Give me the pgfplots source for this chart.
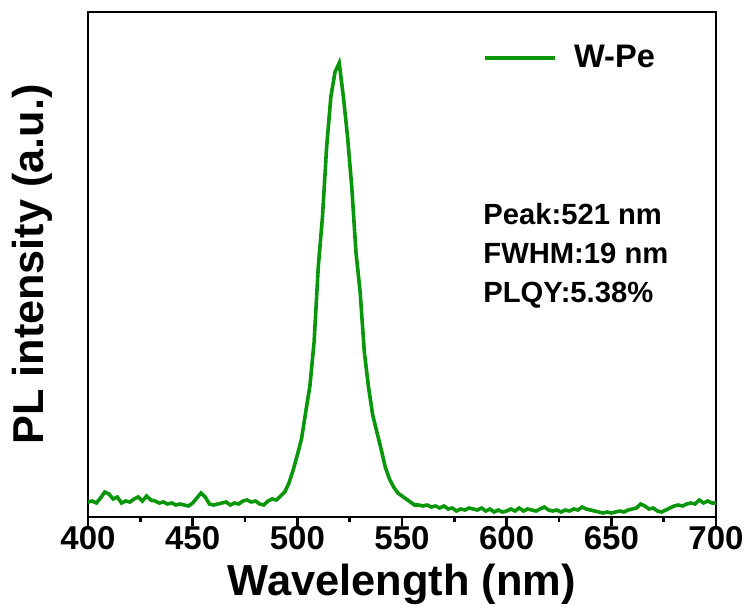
\documentclass[border=0pt]{standalone}
\usepackage{fontspec}
\setmainfont{Liberation Sans}
\usepackage{pgfplots}
\pgfplotsset{compat=1.18}
\definecolor{pegreen}{RGB}{10,150,10}
\begin{document}
\begin{tikzpicture}
\begin{axis}[
  scale only axis,
  width=314pt, height=252.5pt,
  xmin=400, xmax=700, ymin=0, ymax=505,
  xtick={400,450,...,700},
  minor x tick num=1,
  ytick=\empty,
  xtick pos=bottom,
  tick align=outside,
  major tick length=4.5pt,
  minor tick length=2.6pt,
  axis line style={line width=1.4pt},
  every tick/.style={line width=1.4pt, black},
  every minor tick/.style={line width=1.4pt, black},
  /pgf/number format/assume math mode=true,
  /pgf/number format/1000 sep={},
  xticklabel style={font=\fontsize{16.5}{18}\selectfont\bfseries, yshift=1pt, inner ysep=1pt},
  xlabel={Wavelength (nm)},
  ylabel={PL intensity (a.u.)},
  xlabel style={font=\fontsize{21.7}{24}\selectfont\bfseries, at={(axis description cs:0.5,-0.134)}, anchor=center, inner ysep=0pt},
  ylabel style={font=\fontsize{21.6}{24}\selectfont\bfseries, at={(axis description cs:-0.0892,0.5)}, anchor=center, rotate=0},
  legend style={draw=none, fill=none, at={(rel axis cs:0.629,0.909)}, anchor=west, inner xsep=0pt, inner ysep=0pt,
    font=\fontsize{16.3}{18}\selectfont\bfseries, nodes={inner sep=0pt}, /tikz/column sep=8.5pt},
  legend image code/.code={\draw[#1] (0pt,0pt) -- (35pt,0pt);},
  clip=false,
]
\addplot[pegreen, line width=1.8pt] coordinates {
(400,15) (402,16) (404,14) (406,19) (408,25) (410,23) (412,18) (414,20) (416,14) (418,16)
(420,15) (422,18) (424,20) (426,16) (428,21) (430,17) (432,16) (434,14) (436,15) (438,13)
(440,14) (442,12) (444,13) (446,12) (448,11) (450,14) (452,19) (454,24) (456,20) (458,13)
(460,12) (462,13) (464,14) (466,15) (468,12) (470,14) (472,13) (474,16) (476,17) (478,15)
(480,16) (482,13) (484,12) (486,16) (488,18) (490,17) (492,21) (494,25) (496,34) (498,47)
(500,62) (502,78) (504,105) (506,131) (508,175) (510,250) (512,300) (514,370) (516,420) (518,445)
(520,454) (522,420) (524,380) (526,330) (528,265) (530,225) (532,165) (534,130) (536,102) (538,85)
(540,68) (542,50) (544,38) (546,30) (548,24) (550,21) (552,18) (554,15) (556,12) (558,12)
(560,11) (562,12) (564,10) (566,11) (568,9) (570,11) (572,8) (574,9) (576,6) (578,8)
(580,7) (582,9) (584,8) (586,7) (588,9) (590,6) (592,8) (594,5) (596,7) (598,5)
(600,6) (602,8) (604,6) (606,9) (608,6) (610,8) (612,7) (614,6) (616,8) (618,10)
(620,7) (622,6) (624,7) (626,5) (628,7) (630,6) (632,8) (634,7) (636,10) (638,8)
(640,7) (642,6) (644,5) (646,4) (648,5) (650,4) (652,5) (654,6) (656,5) (658,7)
(660,8) (662,9) (664,13) (666,11) (668,8) (670,9) (672,6) (674,5) (676,7) (678,9)
(680,11) (682,12) (684,11) (686,13) (688,14) (690,13) (692,17) (694,14) (696,16) (698,14)
(700,14)
};
\addlegendentry{W-Pe}
\node[anchor=north west, align=left, inner sep=0pt, font=\fontsize{14.6}{19.5}\selectfont\bfseries]
  at (rel axis cs:0.629,0.622) {Peak:521 nm\\FWHM:19 nm\\PLQY:5.38\%};
\coordinate (bl) at (rel axis cs:0,0);
\coordinate (tr) at (rel axis cs:1,1);
\end{axis}
\pgfresetboundingbox
\path ([shift={(-44pt,-46pt)}]bl) rectangle ([shift={(15.5pt,6pt)}]tr);
\end{tikzpicture}
\end{document}
